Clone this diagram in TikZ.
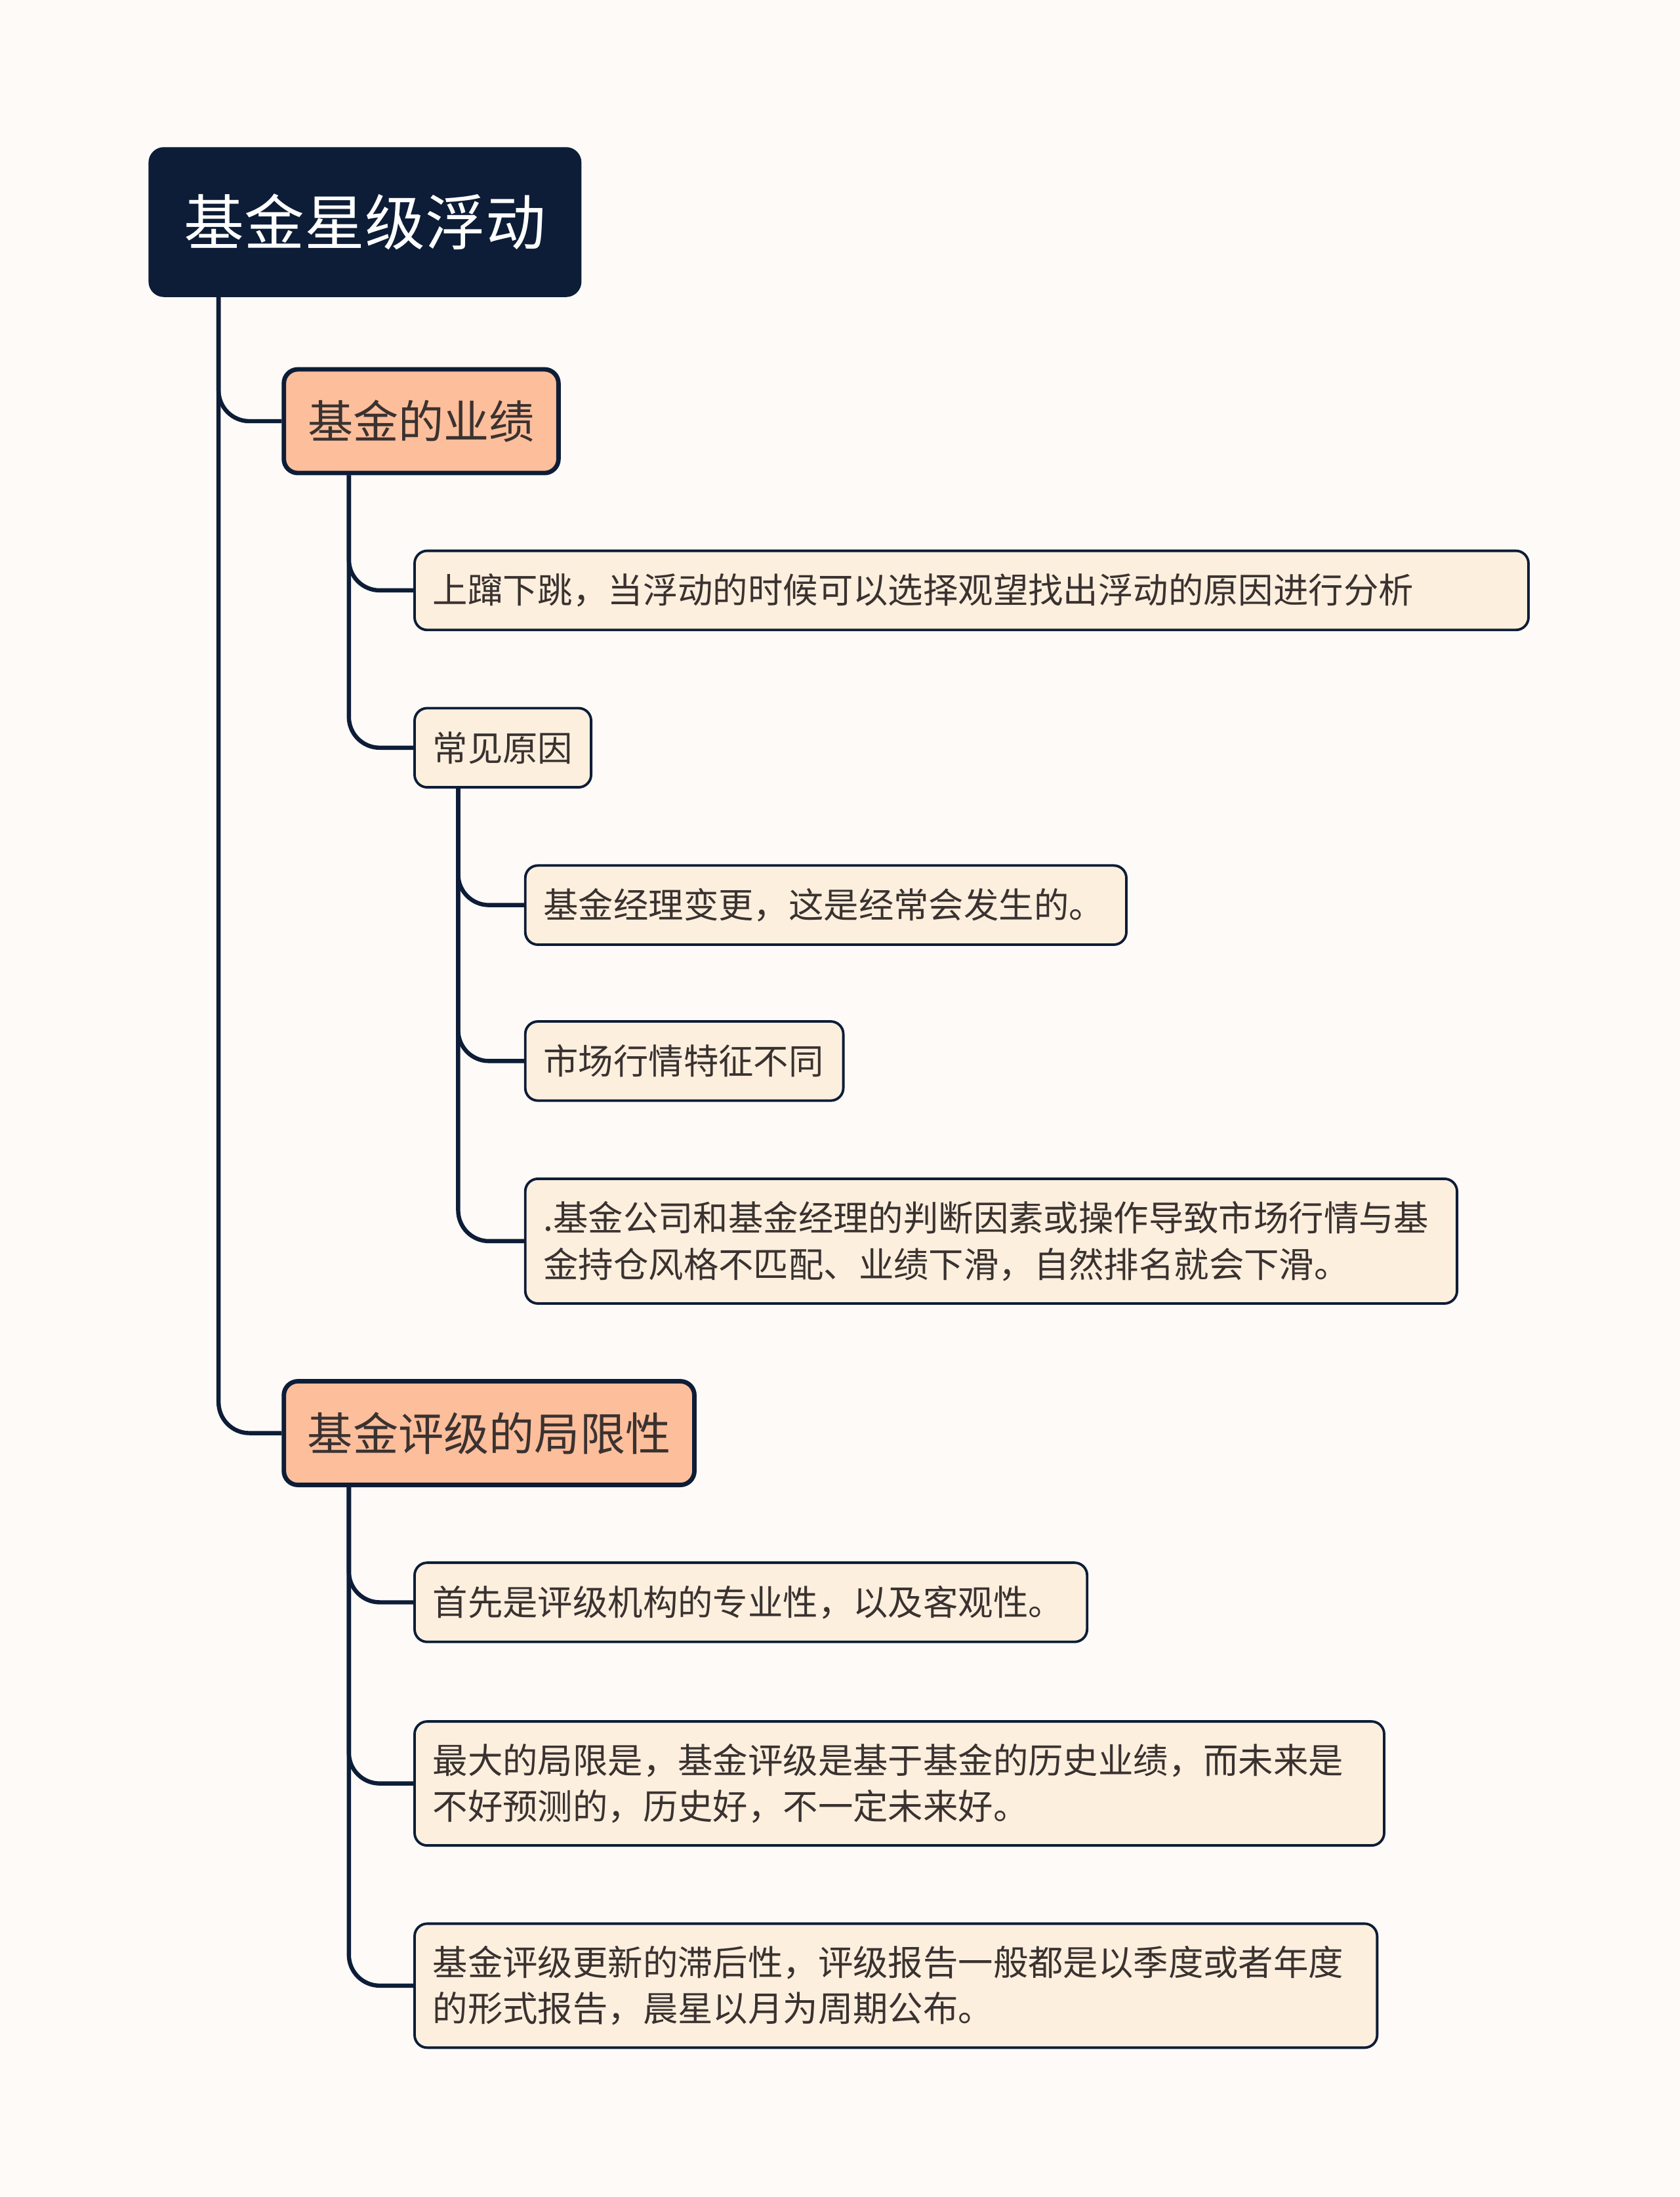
\documentclass[tikz,border=0pt]{standalone}
\usepackage{fontspec}
\newfontfamily\cjk{Noto Sans CJK SC}
\usepackage{tikz}
\usetikzlibrary{positioning}
\definecolor{StarNavy}{RGB}{13, 29, 55}
\definecolor{StarPeach}{RGB}{253, 190, 155}
\definecolor{StarCream}{RGB}{253, 239, 222}
\definecolor{StarInk}{RGB}{58, 50, 48}
\definecolor{StarPaper}{RGB}{253, 250, 248}
\tikzset{
  rootbox/.style={rectangle, rounded corners=5pt, draw=#1, fill=#1, line width=1pt,
                  minimum width=153.5pt, minimum height=52.5pt, inner sep=0pt,
                  font=\cjk\fontsize{21.5}{26}\selectfont, text=white},
  topicbox/.style={rectangle, rounded corners=5pt, draw=StarNavy, fill=#1, line width=1.6pt,
                   minimum height=37pt, inner sep=0pt,
                   font=\cjk\fontsize{16.2}{20}\selectfont, text=StarInk},
  leafbox/.style={rectangle, rounded corners=4.5pt, draw=StarNavy, fill=StarCream, line width=0.9pt,
                  text width=#1, minimum height=28.25pt, inner xsep=6.5pt, inner ysep=0pt,
                  align=left, font=\cjk\fontsize{12.5}{16.5}\selectfont, text=StarInk},
  conn/.style={line width=1.5pt, draw=#1, rounded corners=11pt},
}

\begin{document}
\begin{tikzpicture}[x=0.5pt, y=0.5pt]
      % Page
      \fill[StarPaper] (0,0) rectangle (1199,-1568);
      \useasboundingbox (0,0) rectangle (1199,-1568);

      % Root
      \node[rootbox=StarNavy, anchor=north west] (root) at (106,-105) {基金星级浮动};

      % Branch one
      \node[topicbox=StarPeach, minimum width=98pt,
            below right=25pt and 47.5pt of root.south west] (perf) {基金的业绩};
      \node[leafbox=384.5pt, below right=26.5pt and 47pt of perf.south west] (up)
            {上蹿下跳，当浮动的时候可以选择观望找出浮动的原因进行分析};
      \node[leafbox=50pt, below right=27pt and 0pt of up.south west] (why) {常见原因};
      \node[leafbox=201.5pt, below right=27pt and 39.5pt of why.south west] (mgr)
            {基金经理变更，这是经常会发生的。};
      \node[leafbox=100.5pt, below right=26.5pt and 0pt of mgr.south west] (mkt) {市场行情特征不同};
      \node[leafbox=319.5pt, minimum height=44.5pt, below right=27pt and 0pt of mkt.south west] (mis)
            {.基金公司和基金经理的判断因素或操作导致市场行情与基\\金持仓风格不匹配、业绩下滑，自然排名就会下滑。};

      % Branch two
      \node[topicbox=StarPeach, minimum width=146.5pt, anchor=north west]
            (limit) at ([yshift=-26.5pt]mis.south -| perf.west) {基金评级的局限性};
      \node[leafbox=227pt, below right=26.5pt and 47pt of limit.south west] (pro)
            {首先是评级机构的专业性，以及客观性。};
      \node[leafbox=333pt, minimum height=44.25pt, below right=27.5pt and 0pt of pro.south west] (hist)
            {最大的局限是，基金评级是基于基金的历史业绩，而未来是\\不好预测的，历史好，不一定未来好。};
      \node[leafbox=330.5pt, minimum height=44.25pt, below right=27pt and 0pt of hist.south west] (lag)
            {基金评级更新的滞后性，评级报告一般都是以季度或者年度\\的形式报告，晨星以月为周期公布。};

      % Connectors
      \foreach \topic in {perf, limit}
        \draw[conn=StarNavy] ([xshift=25pt]root.south west) |- (\topic.west);
      \foreach \leaf in {up, why}
        \draw[conn=StarNavy] ([xshift=24pt]perf.south west) |- (\leaf.west);
      \foreach \leaf in {mgr, mkt, mis}
        \draw[conn=StarNavy] ([xshift=16pt]why.south west) |- (\leaf.west);
      \foreach \leaf in {pro, hist, lag}
        \draw[conn=StarNavy] ([xshift=24pt]limit.south west) |- (\leaf.west);
    \end{tikzpicture}
\end{document}
